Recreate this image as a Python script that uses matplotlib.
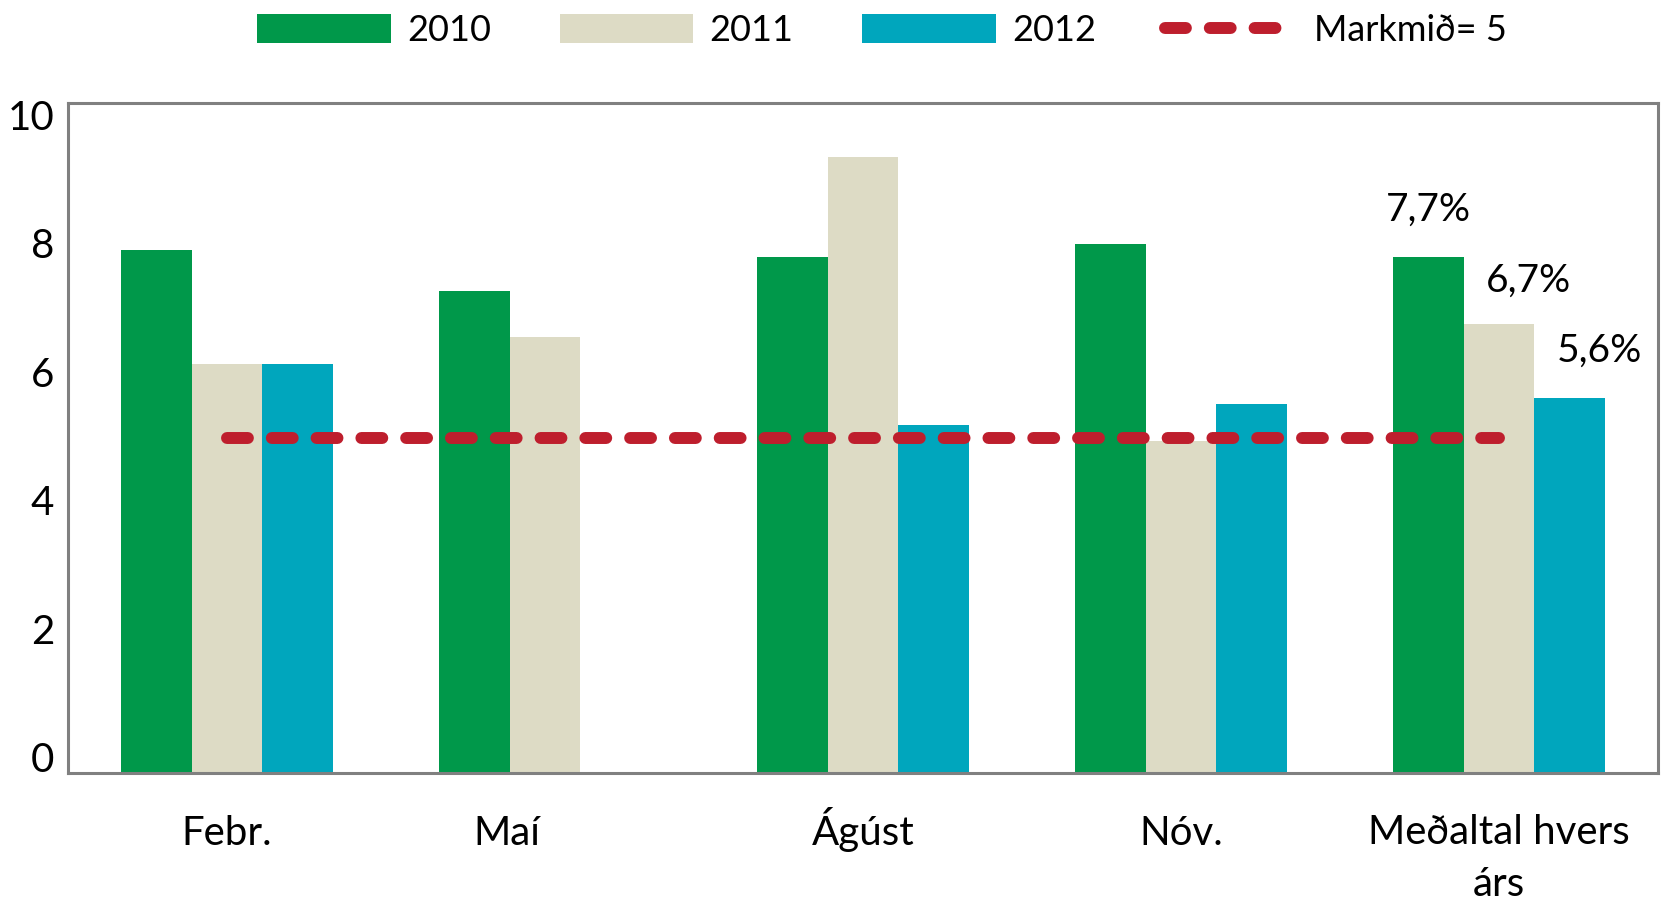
import matplotlib.pyplot as plt
import numpy as np
from matplotlib.lines import Line2D
from matplotlib.patches import Patch
from matplotlib.transforms import ScaledTranslation

# Data
categories = ["Febr.", "Maí", "Ágúst", "Nóv.", "Meðaltal hvers\nárs"]
years = ["2010", "2011", "2012"]
v2010 = [7.8, 7.2, 7.7, 7.9, 7.7]
v2011 = [6.1, 6.5, 9.2, 4.95, 6.7]
v2012 = [6.1, np.nan, 5.2, 5.5, 5.6]
target = 5
avg_labels = ["7,7%", "6,7%", "5,6%"]

colors = ["#00984A", "#DDDBC5", "#00A6BD"]
red = "#BE1E2D"
frame = "#808080"

plt.rcParams["font.family"] = ["Lato", "DejaVu Sans"]

fig = plt.figure(figsize=(16.71, 9.05), dpi=100)
ax = fig.add_axes([0.0407, 0.1459, 0.9515, 0.7403])

x = np.arange(len(categories))
w = 0.223
series = [v2010, v2011, v2012]
for i, (vals, col) in enumerate(zip(series, colors)):
    ax.bar(x + (i - 1) * w, vals, width=w, color=col, linewidth=0, zorder=2)

# target line
ln, = ax.plot(x, [target] * len(x), color=red, lw=8.6,
              dash_capstyle="round", zorder=3)
ln.set_dashes((1.75, 2.0))

# labels above the yearly averages
offsets = [(0, 34), (21, 31), (21, 34)]
for i, (lab, vals) in enumerate(zip(avg_labels, series)):
    ax.annotate(lab, (x[-1] + (i - 1) * w, vals[-1]), xytext=offsets[i],
                textcoords="offset points", ha="center", va="center",
                fontsize=28)

ax.set_xlim(-0.5, 4.5)
ax.set_ylim(0, 10)
yt = list(range(0, 11, 2))
ax.set_yticks(yt)
tick_pos = [0, 0.88, 2, 3, 4]
ax.set_xticks(tick_pos)
ax.set_xticklabels(categories, linespacing=1.5, va="baseline")
ax.tick_params(axis="both", length=0, labelsize=29)
ax.tick_params(axis="x", pad=52)
ax.tick_params(axis="y", pad=10)

# two-line label: baseline is taken from the last line, push it down one line
last = ax.get_xticklabels()[-1]
last.set_transform(last.get_transform() + ScaledTranslation(0, -36.8 / 72, fig.dpi_scale_trans))

# the y labels in the original sit a little off their gridlines
for v, lab in zip(yt, ax.get_yticklabels()):
    dy = (16 - 2.77 * v) * 0.72 / 72
    lab.set_transform(lab.get_transform() + ScaledTranslation(0, dy, fig.dpi_scale_trans))

for s in ax.spines.values():
    s.set_color(frame)
    s.set_linewidth(2.2)

handles = [Patch(facecolor=c, label=y) for c, y in zip(colors, years)]
leg_line = Line2D([], [], color=red, lw=8.6, dash_capstyle="round",
                  label="Markmið= 5")
leg_line.set_dashes((1.75, 2.0))
handles.append(leg_line)
fig.legend(handles=handles, loc="center", bbox_to_anchor=(0.528, 0.966),
           ncol=4, frameon=False, fontsize=26, handlelength=3.7,
           handleheight=0.85, handletextpad=0.45, columnspacing=1.9)

fig.savefig("out.png", dpi=100)
